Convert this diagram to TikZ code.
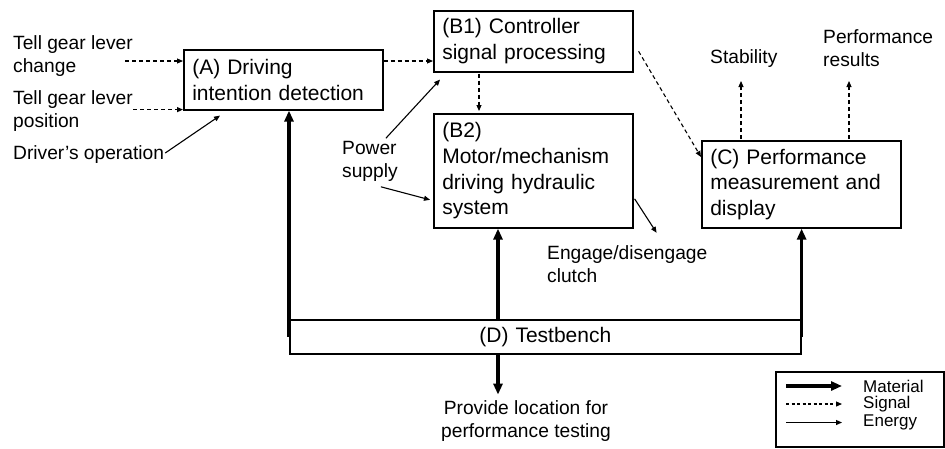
\documentclass[tikz,border=0pt]{standalone}
\usepackage{fontspec}
\setmainfont{Liberation Sans}
\usepackage{tikz}
\usetikzlibrary{arrows.meta,calc}

\begin{document}
\begin{tikzpicture}[x=1pt,y=1pt,yscale=-1,xscale=1,
  blk/.style={draw,line width=1.6pt,anchor=north west,align=left,inner xsep=8.5pt,text width=182pt,font=\fontsize{21}{25.7}\selectfont},
  lbl/.style={anchor=west,align=left,inner sep=0pt,font=\fontsize{19.2}{23}\selectfont},
  lgd/.style={anchor=west,inner sep=0pt,font=\fontsize{17}{20}\selectfont},
  material/.style={line width=3.6pt,-{Triangle[length=11pt,width=9pt]}},
  signal/.style={line width=1.1pt,dash pattern={on 4pt off 3pt},-{Triangle[length=6pt,width=5pt]}},
  energy/.style={line width=1.1pt,-{Triangle[length=6pt,width=5pt]}}]
\useasboundingbox (0,0) rectangle (945,448);

% Blocks
\node[blk,minimum width=199pt,minimum height=60pt] (A) at (183,49) {(A) Driving\\intention detection};
\node[blk,minimum width=199pt,minimum height=61pt] (B1) at (433,10) {(B1) Controller\\signal processing};
\node[blk,minimum width=199pt,minimum height=114pt] (B2) at (433,113) {(B2)\\Motor/mechanism\\driving hydraulic\\system};
\node[blk,minimum width=198pt,minimum height=87pt] (C) at (701,140) {(C) Performance\\measurement and\\display};
\node[blk,minimum width=511pt,minimum height=34pt,text width=494pt,align=center] (D) at (289,319) {(D) Testbench};

% Text Node
\node[lbl] (gchg) at (13,56.5) {Tell gear lever\\change};
% Text Node
\node[lbl] (gpos) at (13,111.5) {Tell gear lever\\position};
% Text Node
\node[lbl] (drv) at (13,155) {Driver's operation};
% Text Node
\node[lbl] (pwr) at (342,161.5) {Power\\supply};
% Text Node
\node[lbl] (clu) at (547,264) {Engage/disengage\\clutch};
% Text Node
\node[lbl] (stab) at (710,59) {Stability};
% Text Node
\node[lbl] (res) at (823,48) {Performance\\results};
% Text Node
\node[lbl,anchor=center,align=center] (loc) at (526,421.5) {Provide location for\\performance testing};

%Straight Lines (inputs of A)
\coordinate (gc) at ($(A.north west)+(-58,12)$);
\draw[signal] (gc) -- (gc -| A.west);
\coordinate (gp) at ($(A.south west)+(-50,-1)$);
\draw[signal] (gp) -- (gp -| A.west);
\draw[energy] ($(drv.east)+(1,-2)$) -- ($(A.south west)+(37,5)$);

%Straight Lines (A to B1 to B2)
\coordinate (ab) at ($(A.north east)+(0,12)$);
\draw[signal] (ab) -- (ab -| B1.west);
\draw[signal] ($(B1.south west)+(46,1)$) -- ($(B2.north west)+(46,-2)$);

%Straight Lines (power supply)
\draw[energy] ($(pwr.north east)+(-12,-3)$) -- ($(B1.south west)+(7,7)$);
\draw[energy] ($(pwr.south east)+(-17,5)$) -- ($(B2.west)+(-3,29)$);

%Straight Lines (clutch, C and outputs)
\draw[energy] ($(B2.east)+(1,28)$) -- ++(22,34);
\draw[signal] ($(B1.east)+(5,10)$) -- ($(C.north west)+(0,17)$);
\draw[signal] ($(C.north west)+(40,-1)$) -- ++(0,-58);
\draw[signal] ($(C.north west)+(148,-1)$) -- ++(0,-58);

%Straight Lines (testbench)
\draw[material] (D.west) -- (D.west |- A.south);
\coordinate (dm) at ($(D.north west)+(209,0)$);
\draw[material] (dm) -- (dm |- B2.south);
\draw[material] (D.east) -- (D.east |- C.south);
\draw[material] (dm |- D.south) -- ++(0,40);

% Legend
\node[draw,line width=1.6pt,anchor=north west,minimum width=168pt,minimum height=75pt] (leg) at (775,371) {};
\node[lgd] (lgm) at (863,386) {Material};
\node[lgd] (lgs) at (863,404) {Signal};
\node[lgd] (lge) at (863,422.5) {Energy};
\draw[material] ($(lgm.west)+(-77,0)$) -- ++(56,0);
\draw[signal,dash pattern={on 3pt off 2.5pt}] ($(lgs.west)+(-77,0)$) -- ++(56,0);
\draw[energy] ($(lge.west)+(-77,0)$) -- ++(56,0);
\end{tikzpicture}
\end{document}
